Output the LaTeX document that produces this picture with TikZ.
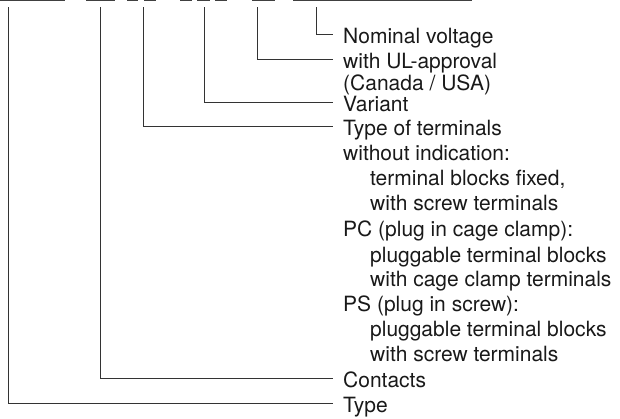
\documentclass[tikz,border=0pt]{standalone}
\usepackage{fontspec}
\setmainfont{TeX Gyre Heros}
\usetikzlibrary{positioning}
\tikzset{
  lab/.style  = {anchor=west, inner xsep=10pt, inner ysep=0pt,
                 text height=18pt, text depth=0pt,
                 font=\fontsize{21}{24}\selectfont, text=black!90},
  slot/.style = {line width=1.6pt, black!75},
  lead/.style = {line width=1pt, black!80}
}

\begin{document}
\begin{tikzpicture}[x=1pt, y=-1pt]
\useasboundingbox (0,0) rectangle (620,419);
% fields of the order code
\foreach \a/\b in {0/65,86/115,127/138,144/156,180/192,197/210,215/227,252/275,293/472}
  \draw[slot] (\a,0.7) -- (\b,0.7);
\coordinate (fType) at (8,7.5);
\coordinate (fCont) at (100,7.5);
\coordinate (fTerm) at (143.5,7.5);
\coordinate (fVar)  at (204,7.5);
\coordinate (fUL)   at (257,7.5);
\coordinate (fNom)  at (316,7.5);
% labels
\node[lab] (nom)   at (333,35)   {Nominal voltage};
\node[lab] (ul)    at (333,59.5) {with UL-approval};
\node[lab] (ca)    at (333,82)   {(Canada / USA)};
\node[lab] (var)   at (333,103)  {Variant};
\node[lab] (term)  at (333,127)  {Type of terminals};
\node[lab] (none)  at (333,152)  {without indication:};
\node[lab] (none1) at (360,177)  {terminal blocks fixed,};
\node[lab] (none2) at (360,202)  {with screw terminals};
\node[lab] (pc)    at (333,228)  {PC (plug in cage clamp):};
\node[lab] (pc1)   at (360,253)  {pluggable terminal blocks};
\node[lab] (pc2)   at (360,277)  {with cage clamp terminals};
\node[lab] (ps)    at (333,302)  {PS (plug in screw):};
\node[lab] (ps1)   at (360,327)  {pluggable terminal blocks};
\node[lab] (ps2)   at (360,352)  {with screw terminals};
\node[lab] (cont)  at (333,378)  {Contacts};
\node[lab] (type)  at (333,403)  {Type};
% leaders
\draw[lead] (fNom)  |- (nom.west);
\draw[lead] (fUL)   |- (ul.west);
\draw[lead] (fVar)  |- (var.west);
\draw[lead] (fTerm) |- (term.west);
\draw[lead] (fCont) |- (cont.west);
\draw[lead] (fType) |- (type.west);
\end{tikzpicture}
\end{document}
